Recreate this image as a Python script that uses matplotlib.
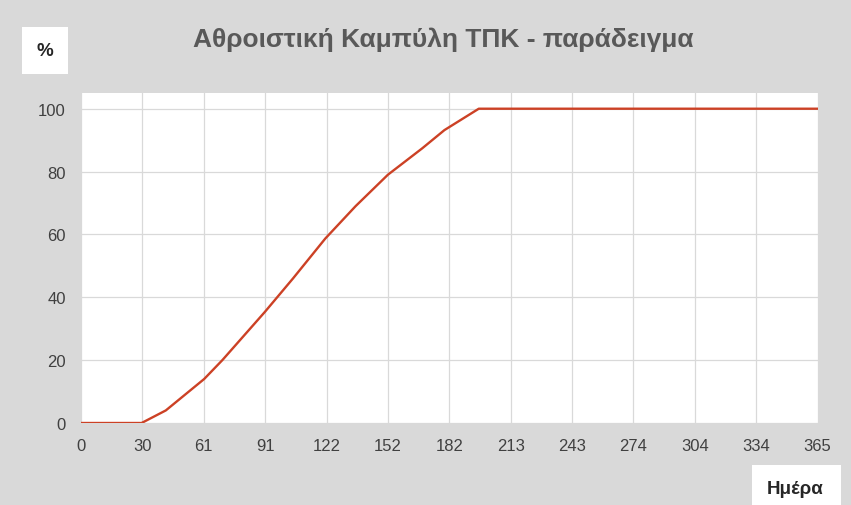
import numpy as np
import matplotlib.pyplot as plt
from matplotlib.patches import Rectangle

plt.rcParams['font.family'] = ['Liberation Sans', 'DejaVu Sans']

# values
days = [0, 30, 42, 61, 70, 91, 105, 121, 136, 152, 169, 180, 197, 365]
percent = [0, 0, 4, 14, 20, 35.3, 46, 58.7, 69, 79, 87.4, 93.2, 100, 100]
tick_pos = [30.4 * i for i in range(13)]
tick_labels = ['0', '30', '61', '91', '122', '152', '182', '213', '243',
               '274', '304', '334', '365']
y_ticks = [0, 20, 40, 60, 80, 100]

bg = '#d9d9d9'
fig = plt.figure(figsize=(8.51, 5.06), dpi=100, facecolor=bg)
ax = fig.add_axes([81/851, 1 - 424/506, 737/851, 330/506])
ax.set_facecolor('white')

ax.plot(days, percent, color='#cc4125', lw=1.7, solid_joinstyle='round', zorder=3)

ax.set_xlim(0, 365)
ax.set_ylim(0, 105)
ax.set_xticks(tick_pos)
ax.set_xticklabels(tick_labels)
ax.set_yticks(y_ticks)
ax.grid(True, color='#d9d9d9', lw=0.9)
ax.tick_params(axis='both', length=0, labelsize=12, labelcolor='#404040')
ax.tick_params(axis='x', pad=11)
ax.tick_params(axis='y', pad=11)
for s in ax.spines.values():
    s.set_visible(False)

fig.text(443/851, 1 - 40/506, 'Αθροιστική Καμπύλη ΤΠΚ - παράδειγμα',
         ha='center', va='center', fontsize=19, fontweight='bold', color='#595959')

# "%" box
fig.patches.append(Rectangle((22/851, 1 - 75/506), 46/851, 47/506,
                             transform=fig.transFigure, facecolor='white', edgecolor='none'))
fig.text(45/851, 1 - 52/506, '%', ha='center', va='center', fontsize=13.5,
         fontweight='bold', color='#262626')

# "Ημέρα" box
fig.patches.append(Rectangle((752/851, 0), 89/851, 40/506,
                             transform=fig.transFigure, facecolor='white', edgecolor='none'))
fig.text(795/851, 1 - 490/506, 'Ημέρα', ha='center', va='center', fontsize=13.5,
         fontweight='bold', color='#262626')

plt.savefig('out.png', dpi=100, facecolor=bg)
